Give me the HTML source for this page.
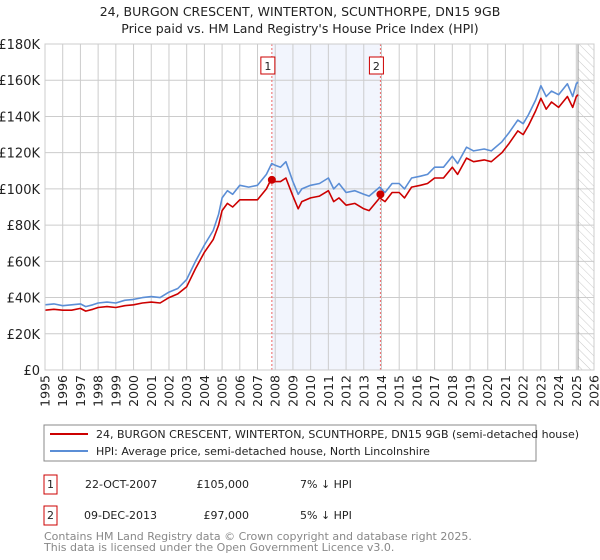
<!DOCTYPE html>
<html><head><meta charset="utf-8">
<style>
body{margin:0;background:#fff;}
svg{display:block;font-family:"DejaVu Sans","Liberation Sans",sans-serif;}
</style></head>
<body>
<svg id="chart" width="600" height="560" viewBox="0 0 600 560">
<defs>
<pattern id="hatch" width="6" height="6" patternUnits="userSpaceOnUse" patternTransform="rotate(-45)">
<line x1="0" y1="0" x2="0" y2="6" stroke="#bbb" stroke-width="0.8"/>
</pattern>
</defs>
<text x="300" y="16" text-anchor="middle" font-size="12.5" fill="#222">24, BURGON CRESCENT, WINTERTON, SCUNTHORPE, DN15 9GB</text>
<text x="300" y="33" text-anchor="middle" font-size="12.5" fill="#222">Price paid vs. HM Land Registry's House Price Index (HPI)</text>
<g id="plot"></g>
<g>
<rect x="44" y="425" width="492" height="36" fill="#fff" stroke="#888"/>
<line x1="50" y1="434" x2="88" y2="434" stroke="#cc0000" stroke-width="2"/>
<text x="96" y="438" font-size="11" fill="#222">24, BURGON CRESCENT, WINTERTON, SCUNTHORPE, DN15 9GB (semi-detached house)</text>
<line x1="50" y1="451" x2="88" y2="451" stroke="#5b8ed6" stroke-width="2"/>
<text x="96" y="455" font-size="11" fill="#222">HPI: Average price, semi-detached house, North Lincolnshire</text>
</g>
<g>
<rect x="44" y="475" width="13" height="19" fill="#fff" stroke="#cc0000"/>
<text x="50.5" y="488" text-anchor="middle" font-size="11" fill="#222">1</text>
<text x="85" y="488" font-size="11" fill="#222">22-OCT-2007</text>
<text x="249" y="488" text-anchor="end" font-size="11" fill="#222">£105,000</text>
<text x="300" y="488" font-size="11" fill="#222">7% ↓ HPI</text>
</g>
<g>
<rect x="44" y="506" width="13" height="19" fill="#fff" stroke="#cc0000"/>
<text x="50.5" y="519" text-anchor="middle" font-size="11" fill="#222">2</text>
<text x="84" y="519" font-size="11" fill="#222">09-DEC-2013</text>
<text x="249" y="519" text-anchor="end" font-size="11" fill="#222">£97,000</text>
<text x="300" y="519" font-size="11" fill="#222">5% ↓ HPI</text>
</g>
<text x="44" y="540" font-size="11" fill="#888">Contains HM Land Registry data © Crown copyright and database right 2025.</text>
<text x="44" y="551" font-size="11" fill="#888">This data is licensed under the Open Government Licence v3.0.</text>
</svg>
<script>
const yTicks=[0,20,40,60,80,100,120,140,160,180];
const yTickLabels=["£0","£20K","£40K","£60K","£80K","£100K","£120K","£140K","£160K","£180K"];
const xYears=[1995,1996,1997,1998,1999,2000,2001,2002,2003,2004,2005,2006,2007,2008,2009,2010,2011,2012,2013,2014,2015,2016,2017,2018,2019,2020,2021,2022,2023,2024,2025,2026];
const times=[1995.0,1995.5,1996.0,1996.5,1997.0,1997.3,1997.7,1998.0,1998.5,1999.0,1999.5,2000.0,2000.5,2001.0,2001.5,2002.0,2002.5,2003.0,2003.5,2004.0,2004.5,2004.8,2005.0,2005.3,2005.6,2006.0,2006.5,2007.0,2007.5,2007.8,2008.0,2008.3,2008.6,2009.0,2009.3,2009.5,2010.0,2010.5,2011.0,2011.3,2011.6,2012.0,2012.5,2013.0,2013.3,2013.9,2014.2,2014.6,2015.0,2015.3,2015.7,2016.2,2016.6,2017.0,2017.5,2018.0,2018.3,2018.8,2019.2,2019.8,2020.2,2020.8,2021.2,2021.7,2022.0,2022.3,2022.7,2023.0,2023.3,2023.6,2024.0,2024.5,2024.8,2025.0,2025.1];
const hpiValues=[36,36.5,35.5,36,36.5,35,36,37,37.5,37,38.5,39,40,40.5,40,43,45,50,60,69,77,86,95,99,97,102,101,102,108,114,113,112,115,104,97,100,102,103,106,100,103,98,99,97,96,101,98,103,103,100,106,107,108,112,112,118,114,123,121,122,121,126,131,138,136,141,149,157,151,154,152,158,151,158,159];
const priceValues=[33,33.5,33,33,34,32.5,33.5,34.5,35,34.5,35.5,36,37,37.5,37,40,42,46,56,65,72,80,88,92,90,94,94,94,100,106,104,104,106,96,89,93,95,96,99,93,95,91,92,89,88,95,93,98,98,95,101,102,103,106,106,112,108,117,115,116,115,120,125,132,130,135,143,150,144,148,145,151,145,151,152];
const sales=[{t:2007.81,v:105},{t:2013.94,v:97}];

const NS="http://www.w3.org/2000/svg";
const plot=document.getElementById('plot');
const X0=45,X1=594,Y0=370,Y1=44;
const xs=t=>X0+(t-1995)/(2026-1995)*(X1-X0);
const ys=v=>Y0-v/180*(Y0-Y1);
function mk(tag,attrs,parent){const e=document.createElementNS(NS,tag);for(const k in attrs)e.setAttribute(k,attrs[k]);(parent||plot).appendChild(e);return e;}

let r=mk('rect',{x:xs(sales[0].t),y:Y1,width:xs(sales[1].t)-xs(sales[0].t),height:Y0-Y1,fill:'#f2f5fd'});


let h=mk('rect',{x:xs(2025.1),y:Y1,width:X1-xs(2025.1),height:Y0-Y1,fill:'url(#hatch)'});



yTicks.forEach((v,i)=>{
  const l=mk('line',{x1:X0,x2:X1,y1:ys(v),y2:ys(v),stroke:'#ccc','stroke-width':1});
  
  
  const t=mk('text',{x:40,y:ys(v)+5,'text-anchor':'end','font-size':13,fill:'#222'});
  
  
  t.textContent=yTickLabels[i];
});
xYears.forEach(yr=>{
  const l=mk('line',{x1:xs(yr),x2:xs(yr),y1:Y1,y2:Y0,stroke:'#ccc','stroke-width':1});
  
  
  const t=mk('text',{x:0,y:0,'text-anchor':'end','font-size':12.5,fill:'#222',transform:`translate(${xs(yr)+4.5},${Y0+5}) rotate(-90)`});
  
  
  t.textContent=yr;
});
let vl=mk('line',{x1:xs(2025.1),x2:xs(2025.1),y1:Y1,y2:Y0,stroke:'#999','stroke-width':1});



sales.forEach((s,i)=>{
  const l=mk('line',{x1:xs(s.t),x2:xs(s.t),y1:Y1,y2:Y0,stroke:'#e66','stroke-width':1,'stroke-dasharray':'2,2'});
  
  
  const b=mk('rect',{x:xs(s.t)-11,y:57,width:14,height:17,fill:'#fff',stroke:'#cc0000'});
  
  
  const t=mk('text',{x:xs(s.t)-4,y:70,'text-anchor':'middle','font-size':11,fill:'#222'});
  
  
  t.textContent=String(i+1);
});

function line(vals,color,name){
  const d=times.map((t,i)=>(i?'L':'M')+xs(t).toFixed(1)+','+ys(vals[i]).toFixed(1)).join('');
  const p=mk('path',{d:d,fill:'none',stroke:color,'stroke-width':1.6,'stroke-linejoin':'round'});
  
  
}
line(hpiValues,'#5b8ed6','hpi-line');
line(priceValues,'#cc0000','price-paid-line');

sales.forEach(s=>{
  const c=mk('circle',{cx:xs(s.t),cy:ys(s.v),r:4,fill:'#cc0000'});
  
  
});
let f=mk('rect',{x:X0,y:Y1,width:X1-X0,height:Y0-Y1,fill:'none',stroke:'#ccc'});


</script>
</body></html>
